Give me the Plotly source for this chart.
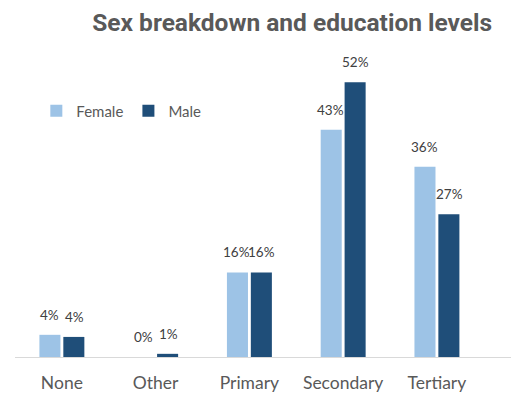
import plotly.graph_objects as go

# Share of each sex by highest education level reached (%)
levels = ["None", "Other", "Primary", "Secondary", "Tertiary"]
female = [4.2, 0, 16, 43, 36]
male = [3.8, 0.6, 16, 52, 27]

series = [
    ("Female", female, "#9DC3E6", -12.5),
    ("Male", male, "#1F4E79", 12.5),
]

fig = go.Figure()
for name, vals, color, _ in series:
    fig.add_trace(go.Bar(
        name=name, x=levels, y=vals,
        marker=dict(color=color, line=dict(width=0)),
        hoverinfo="x+y",
    ))

# value labels above each bar
annotations = []
for name, vals, color, dx in series:
    for cat, v in zip(levels, vals):
        annotations.append(dict(
            x=cat, y=v, xref="x", yref="y",
            text=f"{round(v)}%", showarrow=False,
            xshift=dx, yshift=20, yanchor="middle",
            font=dict(family="Lato", size=13.5, color="#404040"),
        ))

fig.update_layout(
    width=519, height=394,
    margin=dict(l=15, r=8, t=40, b=37),
    paper_bgcolor="white", plot_bgcolor="white",
    barmode="group", bargap=0.49, bargroupgap=0.12,
    title=dict(
        text="<b>Sex breakdown and education levels</b>",
        x=0.563, xanchor="center", y=0.942, yanchor="middle",
        font=dict(family="Roboto", size=24.5, color="#595959"),
    ),
    legend=dict(
        orientation="h", x=0.043, y=0.776, xanchor="left", yanchor="middle",
        font=dict(family="Lato", size=15, color="#595959"),
        bgcolor="rgba(0,0,0,0)",
    ),
    xaxis=dict(
        range=[-0.5, 4.79], showgrid=False, showline=True,
        linecolor="#D9D9D9", linewidth=1, ticks="",
        tickfont=dict(family="Lato", size=17.5, color="#595959"),
        ticklabelstandoff=10, automargin=False,
        fixedrange=True,
    ),
    yaxis=dict(
        range=[0, 60], visible=False, showgrid=False, fixedrange=True,
    ),
    annotations=annotations,
)

fig.write_html("out.html")
